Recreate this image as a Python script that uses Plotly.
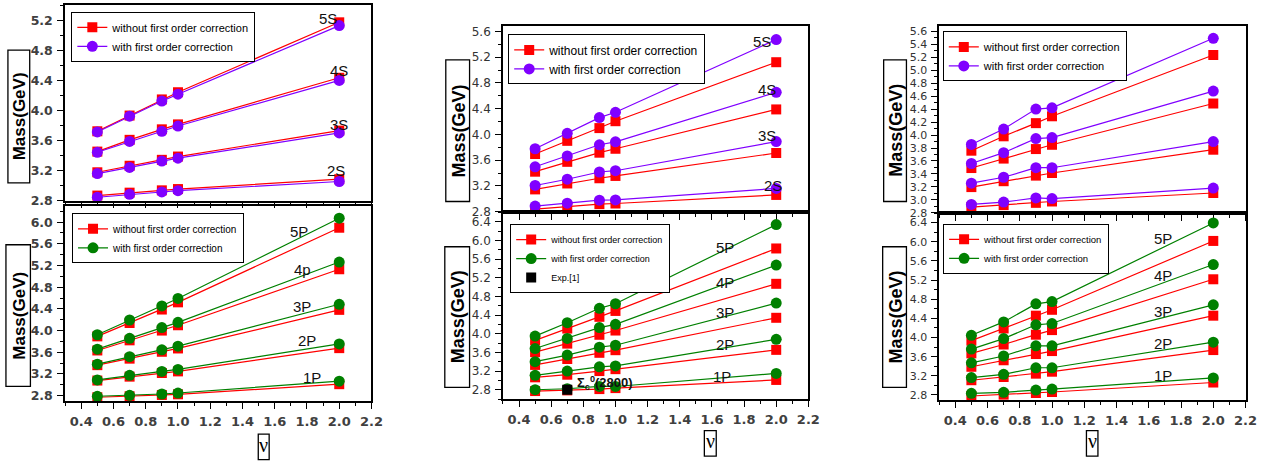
import plotly.graph_objects as go

W, H = 1283, 468

# ---------------- data ----------------
nu = [0.5, 0.7, 0.9, 1.0, 2.0]

# column 1 : S-wave
c1_S_states = ["2S", "3S", "4S", "5S"]
c1_S_without = [[2.866, 2.905, 2.936, 2.953, 3.085],
                [3.177, 3.264, 3.343, 3.387, 3.733],
                [3.453, 3.610, 3.750, 3.816, 4.438],
                [3.724, 3.934, 4.149, 4.245, 5.178]]
c1_S_with = [[2.844, 2.883, 2.914, 2.931, 3.054],
             [3.159, 3.242, 3.326, 3.365, 3.702],
             [3.444, 3.588, 3.724, 3.794, 4.403],
             [3.715, 3.926, 4.127, 4.219, 5.134]]

# column 1 : P-wave
c1_P_states = ["1P", "2P", "3P", "4p", "5P"]
c1_P_without = [[2.770, 2.788, 2.812, 2.824, 3.011],
                [3.078, 3.150, 3.217, 3.247, 3.676],
                [3.362, 3.482, 3.609, 3.670, 4.382],
                [3.633, 3.820, 4.000, 4.098, 5.131],
                [3.893, 4.140, 4.388, 4.521, 5.897]]
c1_P_with = [[2.788, 2.806, 2.830, 2.848, 3.066],
             [3.090, 3.174, 3.247, 3.283, 3.754],
             [3.380, 3.518, 3.645, 3.712, 4.485],
             [3.657, 3.857, 4.056, 4.152, 5.264],
             [3.923, 4.195, 4.454, 4.593, 6.073]]

# column 2 : S-wave
c2_S_states = ["2S", "3S", "4S", "5S"]
c2_S_without = [[2.841, 2.881, 2.917, 2.927, 3.060],
                [3.146, 3.238, 3.319, 3.355, 3.711],
                [3.421, 3.574, 3.716, 3.777, 4.388],
                [3.696, 3.900, 4.098, 4.205, 5.121]]
c2_S_with = [[2.887, 2.932, 2.978, 2.983, 3.161],
             [3.207, 3.304, 3.416, 3.436, 3.889],
             [3.497, 3.665, 3.839, 3.884, 4.653],
             [3.777, 4.017, 4.261, 4.343, 5.473]]

# column 2 : P-wave
c2_P_states = ["1P", "2P", "3P", "4P", "5P"]
c2_P_without = [[2.772, 2.786, 2.814, 2.835, 3.010],
                [3.066, 3.122, 3.200, 3.241, 3.654],
                [3.332, 3.458, 3.591, 3.647, 4.341],
                [3.605, 3.788, 3.977, 4.068, 5.069],
                [3.858, 4.110, 4.362, 4.488, 5.826]]
c2_P_with = [[2.800, 2.821, 2.870, 2.870, 3.150],
             [3.108, 3.200, 3.290, 3.311, 3.879],
             [3.402, 3.542, 3.711, 3.753, 4.656],
             [3.683, 3.900, 4.131, 4.201, 5.469],
             [3.949, 4.236, 4.544, 4.642, 6.337]]
exp_nu = [0.7]
exp_mass = [2.80]
exp_name = "Σ<sub>c</sub><sup>0</sup>(2800)"

# column 3 : S-wave
c3_S_without = [[2.889, 2.919, 2.954, 2.975, 3.106],
                [3.197, 3.288, 3.374, 3.415, 3.774],
                [3.491, 3.637, 3.784, 3.850, 4.487],
                [3.759, 3.981, 4.184, 4.290, 5.236]]
c3_S_with = [[2.929, 2.965, 3.030, 3.020, 3.182],
             [3.258, 3.349, 3.496, 3.496, 3.900],
             [3.561, 3.728, 3.946, 3.961, 4.679],
             [3.855, 4.093, 4.401, 4.421, 5.494]]

# column 3 : P-wave
c3_P_states = ["1P", "2P", "3P", "4P", "5P"]
c3_P_without = [[2.779, 2.807, 2.841, 2.862, 3.060],
                [3.108, 3.176, 3.245, 3.286, 3.738],
                [3.389, 3.525, 3.655, 3.717, 4.456],
                [3.669, 3.854, 4.059, 4.155, 5.216],
                [3.936, 4.189, 4.456, 4.579, 6.017]]
c3_P_with = [[2.834, 2.855, 2.903, 2.923, 3.156],
             [3.163, 3.231, 3.368, 3.368, 3.902],
             [3.471, 3.614, 3.827, 3.827, 4.682],
             [3.758, 3.977, 4.265, 4.292, 5.524],
             [4.046, 4.326, 4.703, 4.750, 6.393]]

name_without = "without first order correction"
name_with = "with first order correction"

RED = "#FF0000"
VIOLET = "#8000FF"
GREEN = "#008000"


def px_x(p):
    return p / W


def px_y(p):
    return 1 - p / H


def joined(rows):
    xs, ys = [], []
    for r in rows:
        xs += nu + [None]
        ys += list(r) + [None]
    return xs, ys


fig = go.Figure()


def add_pair(rows_a, rows_b, color_b, idx, legend_id):
    xa = "x" if idx == 1 else f"x{idx}"
    ya = "y" if idx == 1 else f"y{idx}"
    xs, ys = joined(rows_a)
    fig.add_trace(go.Scatter(
        x=xs, y=ys, mode="lines+markers", name=name_without,
        line=dict(color=RED, width=1.2),
        marker=dict(symbol="square", size=10, color=RED),
        xaxis=xa, yaxis=ya, legend=legend_id, cliponaxis=False))
    xs, ys = joined(rows_b)
    fig.add_trace(go.Scatter(
        x=xs, y=ys, mode="lines+markers", name=name_with,
        line=dict(color=color_b, width=1.2),
        marker=dict(symbol="circle", size=11, color=color_b),
        xaxis=xa, yaxis=ya, legend=legend_id, cliponaxis=False))


add_pair(c1_S_without, c1_S_with, VIOLET, 1, "legend")
add_pair(c1_P_without, c1_P_with, GREEN, 2, "legend2")
add_pair(c2_S_without, c2_S_with, VIOLET, 3, "legend3")
add_pair(c2_P_without, c2_P_with, GREEN, 4, "legend4")
fig.add_trace(go.Scatter(
    x=exp_nu, y=exp_mass, mode="markers", name="Exp.[1]",
    marker=dict(symbol="square", size=10, color="black"),
    xaxis="x4", yaxis="y4", legend="legend4", cliponaxis=False))
add_pair(c3_S_without, c3_S_with, VIOLET, 5, "legend5")
add_pair(c3_P_without, c3_P_with, GREEN, 6, "legend6")

# ---------------- axes ----------------
BOLD_TICK = dict(family="DejaVu Sans", size=13, color="#404040", weight="bold")
BOLD_YTICK = dict(family="DejaVu Sans", size=12.5, color="#404040", weight="bold")

# (x px range, y px range, y range, y dtick, show x labels, y tick font)
panels = {
    1: ((65.7, 375.0), (4, 203), [2.8, 5.41], 0.4, False, BOLD_YTICK),
    2: ((65.7, 375.0), (209, 407), [2.70, 6.29], 0.4, True, BOLD_YTICK),
    3: ((507.7, 816.0), (25, 215), [2.79, 5.69], 0.4, False,
        dict(family="DejaVu Sans", size=12, color="#333333")),
    4: ((507.7, 816.0), (215, 405), [2.60, 6.60], 0.4, True,
        dict(family="DejaVu Sans", size=12, color="#333333")),
    5: ((948.0, 1257.3), (25, 215.5), [2.80, 5.69], 0.2, False,
        dict(family="DejaVu Sans", size=11, color="#333333")),
    6: ((948.0, 1257.3), (215.7, 405.7), [2.70, 6.60], 0.4, True,
        dict(family="DejaVu Sans", size=11, color="#333333")),
}

layout_axes = {}
for i, (xp, yp, yr, ydt, showx, yfont) in panels.items():
    sx = "" if i == 1 else str(i)
    layout_axes[f"xaxis{sx}"] = dict(
        domain=[px_x(xp[0]), px_x(xp[1])], range=[0.3, 2.2],
        anchor=f"y{sx}", dtick=0.2, tick0=0.0, tickformat=".1f",
        ticks="outside", ticklen=6, tickwidth=1.3, tickcolor="black",
        minor=dict(dtick=0.1, ticks="outside", ticklen=3, tickwidth=1.1, tickcolor="black"),
        showline=True, linecolor="black", linewidth=1.5, mirror=True,
        showgrid=False, zeroline=False, showticklabels=showx,
        tickfont=BOLD_TICK, ticklabelstandoff=2)
    layout_axes[f"yaxis{sx}"] = dict(
        domain=[px_y(yp[1]), px_y(yp[0])], range=yr,
        anchor=f"x{sx}", dtick=ydt, tick0=0.0, tickformat=".1f",
        ticks="outside", ticklen=6, tickwidth=1.3, tickcolor="black",
        minor=dict(dtick=ydt / 2, ticks="outside", ticklen=3, tickwidth=1.1, tickcolor="black"),
        showline=True, linecolor="black", linewidth=1.5, mirror=True,
        showgrid=False, zeroline=False, tickfont=yfont, ticklabelstandoff=2)

# ---------------- legends ----------------
def legend_box(x0, y0, size):
    return dict(x=px_x(x0), y=px_y(y0), xanchor="left", yanchor="top",
                bgcolor="white", bordercolor="black", borderwidth=1,
                font=dict(family="Liberation Sans, Arial", size=size, color="black"),
                tracegroupgap=0, itemwidth=30)


legends = dict(
    legend=legend_box(72, 11, 11),
    legend2=legend_box(72.7, 216, 10),
    legend3=legend_box(513, 34, 12),
    legend4=legend_box(515, 227, 9),
    legend5=legend_box(951.7, 31, 11),
    legend6=legend_box(952, 226.7, 9.5),
)

# ---------------- state labels ----------------
annotations = []
LABEL_FONT = dict(family="Liberation Sans, Arial", size=15, color="#111111")


def state_labels(idx, names, xs, ys):
    sx = "" if idx == 1 else str(idx)
    for n, x, y in zip(names, xs, ys):
        annotations.append(dict(text=n, x=x, y=y, xref=f"x{sx}", yref=f"y{sx}",
                                xanchor="center", yanchor="middle",
                                showarrow=False, font=LABEL_FONT))


state_labels(1, c1_S_states, [1.98, 2.0, 2.0, 1.93], [3.20, 3.82, 4.53, 5.23])
state_labels(2, c1_P_states, [1.83, 1.80, 1.77, 1.77, 1.75], [3.14, 3.81, 4.44, 5.125, 5.82])
state_labels(3, c2_S_states, [1.98, 1.94, 1.94, 1.91], [3.21, 3.99, 4.69, 5.45])
state_labels(4, c2_P_states, [1.66, 1.68, 1.68, 1.68, 1.68], [3.09, 3.76, 4.45, 5.10, 5.845])
state_labels(6, c3_P_states, [1.69, 1.69, 1.69, 1.69, 1.69], [3.21, 3.88, 4.546, 5.285, 6.07])

annotations.append(dict(text=f"<b>{exp_name}</b>", x=0.75, y=2.95, xref="x4", yref="y4",
                        xanchor="left", yanchor="middle", showarrow=False,
                        font=dict(family="Liberation Sans, Arial", size=13, color="#111111")))

# ---------------- boxed axis titles ----------------
shapes = []
y_title_boxes = [(8, 50, 30, 185), (6, 248, 30.7, 392),
                 (450, 60, 474, 204), (449, 250, 474, 393),
                 (892, 60, 915, 204), (891, 250, 915, 393)]
y_title_sizes = [17, 17, 18, 18, 18, 18]
for (x0, y0, x1, y1), fs in zip(y_title_boxes, y_title_sizes):
    shapes.append(dict(type="rect", xref="paper", yref="paper",
                       x0=px_x(x0), x1=px_x(x1), y0=px_y(y1), y1=px_y(y0),
                       line=dict(color="black", width=1.3)))
    annotations.append(dict(text="<b>Mass(GeV)</b>", textangle=-90,
                            x=px_x((x0 + x1) / 2 + 1), y=px_y((y0 + y1) / 2),
                            xref="paper", yref="paper", xanchor="center", yanchor="middle",
                            showarrow=False,
                            font=dict(family="Liberation Sans, Arial", size=fs, color="black")))

x_title_boxes = [(260.7, 440.7, 271.7, 466.7), (711, 437, 723, 463), (1096.7, 437, 1108.3, 463)]
for (x0, y0, x1, y1) in x_title_boxes:
    shapes.append(dict(type="rect", xref="paper", yref="paper",
                       x0=px_x(x0), x1=px_x(x1), y0=px_y(y1), y1=px_y(y0),
                       line=dict(color="black", width=1.3)))
    annotations.append(dict(text="ν", x=px_x((x0 + x1) / 2), y=px_y((y0 + y1) / 2 - 2),
                            xref="paper", yref="paper", xanchor="center", yanchor="middle",
                            showarrow=False,
                            font=dict(family="Liberation Serif, Times New Roman", size=20,
                                      color="black")))

fig.update_layout(
    width=W, height=H, margin=dict(l=0, r=0, t=0, b=0),
    paper_bgcolor="white", plot_bgcolor="white",
    annotations=annotations, shapes=shapes, **legends, **layout_axes)

fig.write_html("out.html")
